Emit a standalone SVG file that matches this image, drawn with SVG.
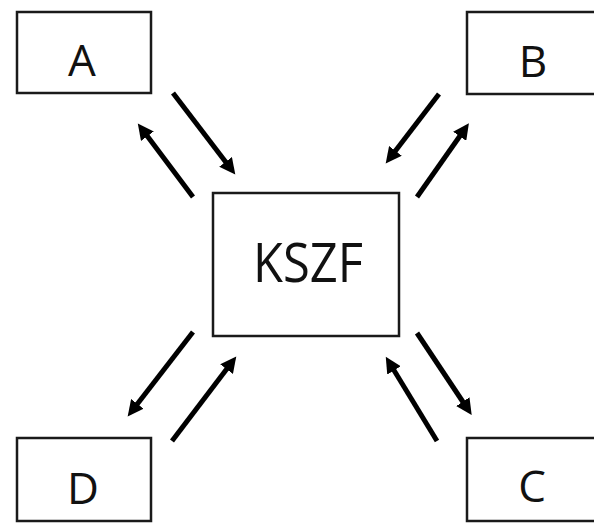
<svg xmlns="http://www.w3.org/2000/svg" width="594" height="524" viewBox="0 0 594 524">
<style>
.box{fill:#fff;stroke:#1a1a1a;stroke-width:2.5}
.lbl{font-family:"Open Sans","Liberation Sans",sans-serif;font-size:44px;fill:#111;text-anchor:middle}
.big{font-size:54px}
.arr{stroke:#000;stroke-width:5;fill:none;marker-end:url(#ah)}
</style>
<defs>
<marker id="ah" markerUnits="userSpaceOnUse" markerWidth="18" markerHeight="16" refX="4" refY="8" orient="auto" viewBox="0 0 18 16">
<path d="M0,0 L16,8 L0,16 z" fill="#000"/>
</marker>
</defs>
<rect width="594" height="524" fill="#fff"/>
<g id="node-A"><rect class="box" x="17" y="12" width="134" height="81"/><text class="lbl" x="82" y="76">A</text></g>
<g id="node-B"><rect class="box" x="467" y="12" width="134" height="82"/><text class="lbl" x="533" y="77">B</text></g>
<g id="node-KSZF"><rect class="box" x="213" y="193" width="186" height="143"/><text class="lbl big" x="308" y="282" textLength="110" lengthAdjust="spacingAndGlyphs">KSZF</text></g>
<g id="node-D"><rect class="box" x="17" y="438" width="134" height="83"/><text class="lbl" x="83" y="504">D</text></g>
<g id="node-C"><rect class="box" x="467" y="438" width="134" height="83"/><text class="lbl" x="532" y="502">C</text></g>
<g id="connectors">
<line class="arr" x1="173" y1="93" x2="228" y2="165"/>
<line class="arr" x1="193" y1="197" x2="145" y2="133"/>
<line class="arr" x1="439" y1="94" x2="393" y2="154"/>
<line class="arr" x1="417" y1="197" x2="462" y2="133"/>
<line class="arr" x1="193" y1="332" x2="135" y2="407"/>
<line class="arr" x1="172" y1="441" x2="229" y2="366"/>
<line class="arr" x1="417" y1="333" x2="465" y2="405"/>
<line class="arr" x1="437" y1="441" x2="392" y2="367"/>
</g>
</svg>
